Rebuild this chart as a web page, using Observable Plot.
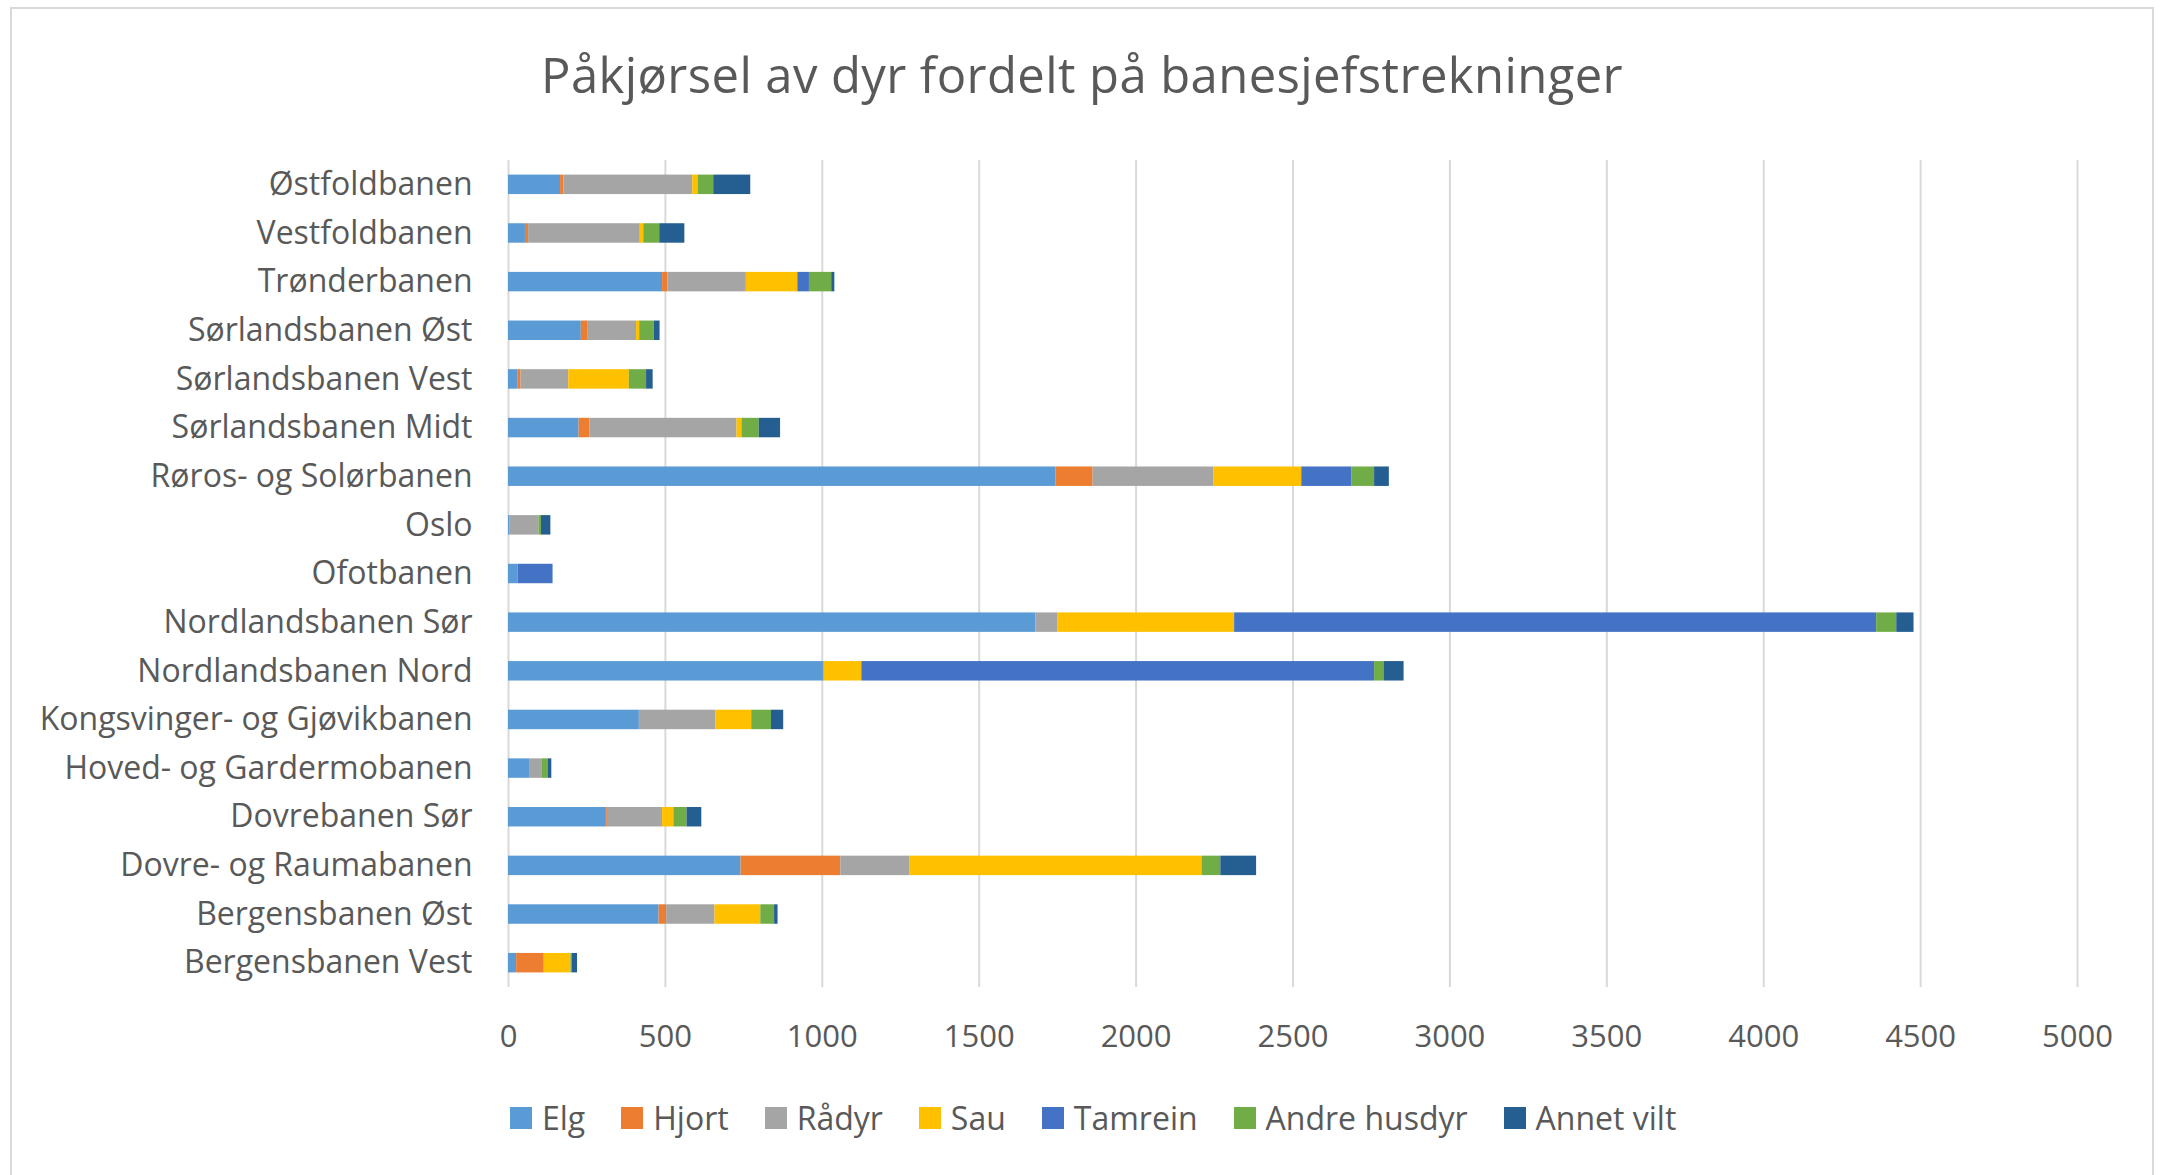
<!DOCTYPE html>
<html><head><meta charset="utf-8">
<script src="https://cdn.jsdelivr.net/npm/d3@7"></script>
<script src="https://cdn.jsdelivr.net/npm/@observablehq/plot@0.6"></script>
<style>
body{margin:0;background:#fff;font-family:"Open Sans",sans-serif;color:#595959;width:2164px;height:1175px;overflow:hidden;position:relative}
#frame{position:absolute;left:10px;top:7px;width:2144px;height:1200px;border:2px solid #d9d9d9;box-sizing:border-box;pointer-events:none}
#title{height:130px;box-sizing:border-box;padding-top:50px;font-size:49px;letter-spacing:0.4px;line-height:1;text-align:center;white-space:nowrap}
#chart svg{display:block}
#legend{display:flex;justify-content:flex-start;gap:36px;padding-top:27px;padding-left:510px;font-size:32px;line-height:32px}
.item{display:flex;align-items:center;gap:10px}
.sw{width:22px;height:22px;display:inline-block}
</style></head><body>
<div id="frame"></div>
<div id="title">Påkjørsel av dyr fordelt på banesjefstrekninger</div>
<div id="chart"></div>
<div id="legend"></div>
<script>
const categories = ["Østfoldbanen","Vestfoldbanen","Trønderbanen","Sørlandsbanen Øst","Sørlandsbanen Vest","Sørlandsbanen Midt","Røros- og Solørbanen","Oslo","Ofotbanen","Nordlandsbanen Sør","Nordlandsbanen Nord","Kongsvinger- og Gjøvikbanen","Hoved- og Gardermobanen","Dovrebanen Sør","Dovre- og Raumabanen","Bergensbanen Øst","Bergensbanen Vest"];
const species = ["Elg","Hjort","Rådyr","Sau","Tamrein","Andre husdyr","Annet vilt"];
const colors = ["#5B9BD5","#ED7D31","#A5A5A5","#FFC000","#4472C4","#70AD47","#255E91"];
const elg =         [166, 54, 491, 232, 31, 225, 1745, 5, 31, 1681, 1006, 417, 67, 312, 741, 480, 26];
const hjort =       [11, 10, 17, 20, 9, 34, 118, 0, 0, 0, 0, 0, 0, 3, 318, 24, 88];
const radyr =       [410, 356, 250, 156, 152, 469, 384, 92, 0, 69, 0, 244, 41, 176, 221, 154, 0];
const sau =         [17, 11, 164, 10, 193, 16, 281, 0, 0, 564, 120, 114, 0, 36, 930, 146, 85];
const tamrein =     [0, 0, 37, 0, 0, 0, 159, 0, 111, 2046, 1634, 0, 0, 0, 0, 0, 0];
const andreHusdyr = [50, 51, 71, 47, 55, 55, 73, 8, 0, 64, 30, 63, 18, 42, 60, 44, 5];
const annetVilt =   [118, 80, 10, 18, 21, 68, 47, 30, 0, 55, 64, 39, 12, 47, 114, 11, 16];
const xTicks = [0,500,1000,1500,2000,2500,3000,3500,4000,4500,5000];

const seriesValues = [elg, hjort, radyr, sau, tamrein, andreHusdyr, annetVilt];
const rows = [];
categories.forEach((c, i) => {
  species.forEach((s, j) => rows.push({cat: c, species: s, value: seriesValues[j][i]}));
});

const chart = Plot.plot({
  width: 2164, height: 945,
  marginTop: 30, marginBottom: 88, marginLeft: 508, marginRight: 87,
  style: {fontFamily: '"Open Sans", sans-serif', fontSize: "32px", color: "#595959", background: "transparent"},
  x: {domain: [0, 5000], label: null},
  y: {domain: categories, paddingInner: 0.6, paddingOuter: 0.3, round: false, label: null},
  color: {domain: species, range: colors},
  marks: [
    Plot.gridX(xTicks, {stroke: "#d9d9d9", strokeWidth: 2, strokeOpacity: 1}),
    Plot.barX(rows, {x: "value", y: "cat", fill: "species", order: species}),
    Plot.axisX(xTicks, {tickSize: 0, tickPadding: 37, fontSize: 31, fill: "#595959", tickFormat: d => String(d), label: null}),
    Plot.axisY({tickSize: 0, tickPadding: 36, fontSize: 32, fill: "#595959", label: null})
  ]
});
document.getElementById("chart").appendChild(chart);

const legend = document.getElementById("legend");
species.forEach((s, j) => {
  const item = document.createElement("div");
  item.className = "item";
  const sw = document.createElement("span");
  sw.className = "sw";
  sw.style.background = colors[j];
  const t = document.createElement("span");
  t.textContent = s;
  item.appendChild(sw); item.appendChild(t);
  legend.appendChild(item);
});
</script>
</body></html>
